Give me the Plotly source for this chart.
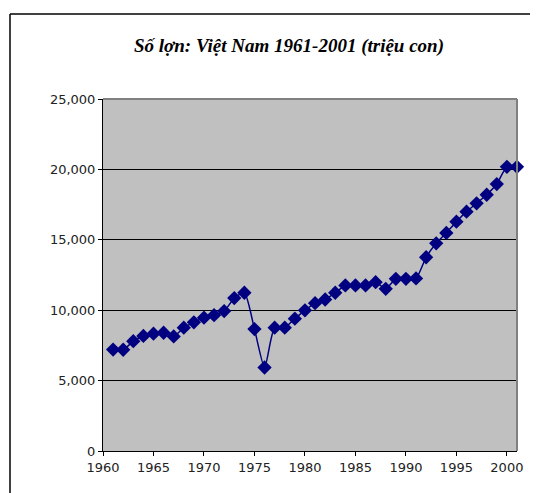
import plotly.graph_objects as go

years = list(range(1961, 2002))
pigs = [7200, 7190, 7800, 8170, 8330, 8400, 8140, 8760, 9140, 9470,
        9650, 9940, 10860, 11240, 8660, 5930, 8760, 8760, 9400, 9990,
        10500, 10760, 11240, 11760, 11760, 11760, 11990, 11520, 12230, 12230,
        12260, 13760, 14750, 15490, 16290, 17000, 17590, 18200, 18960, 20180, 20180]
title_text = "Số lợn: Việt Nam 1961-2001 (triệu con)"

fig = go.Figure()
fig.add_trace(go.Scatter(
    x=years, y=pigs, mode="lines+markers",
    line=dict(color="#000080", width=1.5, shape="spline", smoothing=0.6),
    marker=dict(symbol="diamond", size=11, color="#000080"),
    cliponaxis=False, showlegend=False,
))

OFF = 8  # page body margin
W, H = 530, 485
L, T = 103 - OFF, 99 - OFF
R = W - (517 - OFF)
B = H - (451 - OFF)
pw, ph = W - L - R, H - T - B

def px(x):
    return (x - OFF - L) / pw

def py(y):
    return (H - B - (y - OFF)) / ph

tick_font = dict(family="DejaVu Sans, Verdana, sans-serif", size=13, color="#222222")

fig.update_layout(
    width=W, height=H,
    margin=dict(l=L, r=R, t=T, b=B, pad=0),
    paper_bgcolor="white", plot_bgcolor="#C0C0C0",
    title=dict(text="<b><i>" + title_text + "</i></b>", x=px(289), xref="paper",
               xanchor="center", y=1 - (45 - OFF) / H, yanchor="middle",
               font=dict(family="Liberation Serif, Times New Roman, serif", size=19, color="black")),
    xaxis=dict(range=[1960, 2001], tickmode="linear", tick0=1960, dtick=5,
               showgrid=False, zeroline=False, showline=True, linecolor="black", linewidth=1,
               ticks="outside", ticklen=4, tickcolor="black", tickfont=tick_font),
    yaxis=dict(range=[0, 25000], tickmode="linear", tick0=0, dtick=5000, tickformat=",d",
               showgrid=True, gridcolor="black", gridwidth=1, zeroline=False,
               showline=True, linecolor="black", linewidth=1,
               ticks="outside", ticklen=4, tickcolor="black", tickfont=tick_font),
    shapes=[
        dict(type="line", xref="paper", yref="paper", x0=0, x1=1, y0=1, y1=1,
             line=dict(color="#808080", width=2)),
        dict(type="line", xref="paper", yref="paper", x0=1, x1=1, y0=0, y1=1,
             line=dict(color="#808080", width=2)),
        dict(type="line", xref="paper", yref="paper", x0=px(10), x1=px(10),
             y0=py(14), y1=py(500), line=dict(color="black", width=1.5)),
        dict(type="line", xref="paper", yref="paper", x0=px(10), x1=px(545),
             y0=py(14), y1=py(14), line=dict(color="black", width=1.5)),
    ],
)

fig.write_html("out.html")
